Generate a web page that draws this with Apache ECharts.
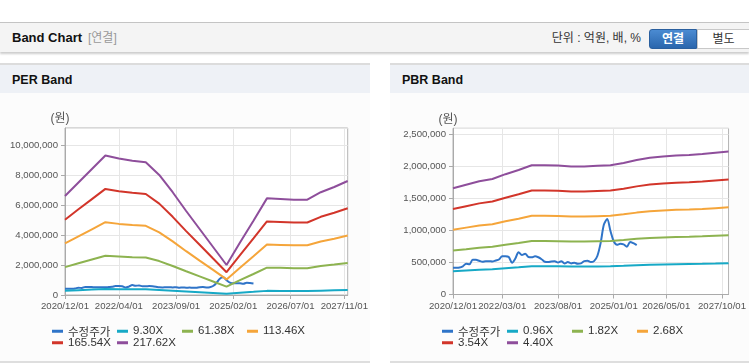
<!DOCTYPE html>
<html><head><meta charset="utf-8">
<script src="https://cdn.jsdelivr.net/npm/echarts@6/dist/echarts.min.js"></script>
<style>
html,body{margin:0;padding:0;background:#fff;width:749px;height:364px;overflow:hidden;font-family:"Liberation Sans","Noto Sans CJK KR",sans-serif;}
#hdr{position:absolute;left:0;top:22px;width:749px;height:29px;background:#f4f4f4;border-top:1px solid #c4c4c4;box-shadow:0 2px 2px rgba(0,0,0,0.2);}
#hdr .t{position:absolute;left:12px;top:0;line-height:30px;font-size:13px;font-weight:bold;color:#111;}
#hdr .s{position:absolute;left:88px;top:0;line-height:30px;font-size:12px;color:#999;}
#hdr .u{position:absolute;right:108px;top:0;line-height:30px;font-size:12px;color:#333;}
.btn{position:absolute;top:6px;height:18px;line-height:18px;font-size:12px;text-align:center;box-sizing:border-box;}
#b1{left:649px;width:48px;background:linear-gradient(#4b8bd2,#2a66ad);border:1px solid #2a5f9e;border-radius:3px 0 0 3px;color:#fff;font-weight:bold;height:20px;line-height:18px;}
#b2{left:697px;width:53px;background:#fff;border:1px solid #c8c8c8;color:#333;height:20px;line-height:18px;}
.panel{position:absolute;top:63px;height:296px;background:#fcfcfc;border-top:2px solid #dcdcdc;border-bottom:2px solid #dedede;}
.panel .h{height:28px;background:#eef1f6;line-height:30px;padding-left:12px;font-size:12.5px;font-weight:bold;color:#111;}
#chart{position:absolute;left:0;top:0;width:749px;height:364px;z-index:5;}
</style></head>
<body>
<div id="hdr"><span class="t">Band Chart</span><span class="s">[연결]</span><span class="u">단위 : 억원, 배, %</span>
<div class="btn" id="b1">연결</div><div class="btn" id="b2">별도</div></div>
<div class="panel" style="left:0;width:370px;"><div class="h">PER Band</div></div>
<div class="panel" style="left:390px;width:359px;"><div class="h">PBR Band</div></div>
<div id="chart"></div>
<script>
// month categories 2020/12 .. 2027/12
const categories = [];
for (let y = 2020, m = 12; y < 2028; ) { categories.push(y + '/' + String(m).padStart(2, '0') + '/01'); m++; if (m > 12) { m = 1; y++; } }

const perTickIdx = [0, 16, 33, 50, 67, 83];
const pbrTickIdx = [0, 15, 32, 49, 65, 82];

// knot month indexes for band lines
const knots = [0,4,8,12,16,20,24,28,32,36,40,44,48,52,56,60,64,68,72,76,80,84];

// adjusted price (원), monthly from 2020/12
const price = [417000,417000,420000,440000,480000,470000,540000,540000,525000,510000,520000,520000,515000,530000,545000,595000,595000,585000,495000,560000,660000,615000,635000,585000,580000,595000,580000,550000,510000,505000,515000,520000,500000,520000,485000,505000,485000,495000,480000,485000,520000,525000,505000,520000,600000,800000,1090000,1175000,990000,830000,775000,790000,780000,745000,820000,800000,770000];

// PER bands
const perNames = ['9.30X','61.38X','113.46X','165.54X','217.62X'];
const per930   = [280000,320000,360000,400000,390000,380000,380000,340000,290000,240000,190000,140000,85000,150000,210000,275000,270000,270000,270000,290000,310000,325000];
const per6138  = [1860000,2120000,2370000,2620000,2570000,2520000,2500000,2260000,1930000,1580000,1240000,900000,560000,990000,1400000,1820000,1810000,1790000,1790000,1930000,2030000,2140000];
const per11346 = [3440000,3910000,4380000,4850000,4740000,4670000,4610000,4170000,3570000,2920000,2290000,1670000,1040000,1820000,2580000,3360000,3340000,3310000,3310000,3570000,3750000,3960000];
const per16554 = [5020000,5710000,6390000,7070000,6920000,6810000,6730000,6090000,5210000,4260000,3350000,2430000,1520000,2660000,3770000,4900000,4870000,4830000,4830000,5210000,5480000,5780000];
const per21762 = [6600000,7500000,8400000,9300000,9100000,8950000,8850000,8000000,6850000,5600000,4400000,3200000,2000000,3500000,4950000,6440000,6400000,6350000,6350000,6850000,7200000,7600000];

// PBR bands
const pbrNames = ['0.96X','1.82X','2.68X','3.54X','4.40X'];
const pbr096 = [361000,373000,385000,393000,409000,423000,440000,440000,439000,435000,435000,437000,440000,447000,457000,465000,469000,472000,475000,478000,482000,487000];
const pbr182 = [685000,707000,730000,745000,776000,802000,833000,833000,831000,825000,825000,829000,833000,848000,867000,881000,889000,896000,900000,906000,914000,922000];
const pbr268 = [1008000,1042000,1075000,1096000,1142000,1182000,1227000,1227000,1224000,1215000,1215000,1221000,1227000,1249000,1276000,1297000,1310000,1319000,1325000,1334000,1346000,1358000];
const pbr354 = [1331000,1376000,1420000,1448000,1508000,1561000,1621000,1621000,1617000,1605000,1605000,1613000,1621000,1649000,1685000,1714000,1730000,1742000,1750000,1762000,1778000,1794000];
const pbr440 = [1655000,1710000,1765000,1800000,1875000,1940000,2015000,2015000,2010000,1995000,1995000,2005000,2015000,2050000,2095000,2130000,2150000,2165000,2175000,2190000,2210000,2230000];

const priceName = '수정주가';
const colors = ['#2f74c8','#17a9c6','#8db350','#f5a53a','#d2352a','#8e4e9b'];

const FONT = '"Liberation Sans","Noto Sans CJK KR",sans-serif';
const fmt = v => Number(v).toLocaleString('en-US');

function xAxis(gi, ticks) {
  const f = i => ticks.indexOf(i) >= 0;
  return {
    type: 'category', gridIndex: gi, data: categories, boundaryGap: false,
    axisLine: { lineStyle: { color: '#aaa' } },
    axisTick: { show: true, interval: f, length: 4, lineStyle: { color: '#aaa' } },
    axisLabel: { interval: f, color: '#555', fontSize: 9.6, fontFamily: FONT, margin: 7,
      showMinLabel: true, showMaxLabel: true, hideOverlap: false },
    splitLine: { show: true, interval: f, lineStyle: { color: '#e6e6e6' } }
  };
}
function yAxis(gi, max, interval) {
  return {
    type: 'value', gridIndex: gi, min: 0, max: max, interval: interval,
    name: '(원)', nameLocation: 'end', nameGap: 3,
    nameTextStyle: { color: '#555', fontSize: 12, fontFamily: FONT, padding: [0, 10, 0, 0] },
    axisLine: { show: true, lineStyle: { color: '#aaa' } },
    axisTick: { show: true, length: 4, lineStyle: { color: '#aaa' } },
    axisLabel: { color: '#555', fontSize: 9.6, fontFamily: FONT, margin: 7, showMaxLabel: false, formatter: fmt },
    splitLine: { show: true, lineStyle: { color: '#e6e6e6' } }
  };
}
function pairs(xs, ys) { return xs.map((x, i) => [x, ys[i]]); }
function line(name, gi, data, color, smooth) {
  return { name: name, type: 'line', xAxisIndex: gi, yAxisIndex: gi, data: data, showSymbol: false, symbol: 'none',
    smooth: smooth || false, lineStyle: { width: 2, color: color }, itemStyle: { color: color }, animation: false };
}
function legend(left, names) {
  return {
    left: left, top: 325.5, width: 262, padding: 0, itemGap: 0, itemWidth: 11, itemHeight: 3, icon: 'rect',
    data: [priceName].concat(names),
    formatter: n => n === priceName ? '{k|' + n + '}' : '{a|' + n + '}',
    textStyle: { fontSize: 11.5, color: '#333', fontFamily: FONT,
      rich: {
        a: { width: 49, fontSize: 11.5, lineHeight: 13.5, color: '#333', fontFamily: FONT },
        k: { width: 49, fontSize: 11.5, lineHeight: 13.5, color: '#333', fontFamily: '"Noto Sans CJK KR",sans-serif' }
      } }
  };
}

const priceData = price.map((v, i) => [i, v]);
const perBands = [per930, per6138, per11346, per16554, per21762];
const pbrBands = [pbr096, pbr182, pbr268, pbr354, pbr440];

const series = [line(priceName, 0, priceData, colors[0], 0.3)];
perBands.forEach((b, k) => series.push(line(perNames[k], 0, pairs(knots, b), colors[k + 1])));
series.push(line(priceName, 1, priceData, colors[0], 0.3));
pbrBands.forEach((b, k) => series.push(line(pbrNames[k], 1, pairs(knots, b), colors[k + 1])));

const chart = echarts.init(document.getElementById('chart'), null, { renderer: 'canvas' });
chart.setOption({
  animation: false,
  backgroundColor: 'transparent',
  grid: [
    { left: 65, top: 128, width: 282.7, height: 167, show: true, borderColor: '#b4b4b4', backgroundColor: '#fff', containLabel: false },
    { left: 453, top: 128.3, width: 284, height: 166.2, show: true, borderColor: '#b4b4b4', backgroundColor: '#fff', containLabel: false }
  ],
  xAxis: [xAxis(0, perTickIdx), xAxis(1, pbrTickIdx)],
  yAxis: [yAxis(0, 11130000, 2000000), yAxis(1, 2590000, 500000)],
  legend: [legend(52, perNames), legend(442, pbrNames)],
  series: series
});
</script>
</body></html>
